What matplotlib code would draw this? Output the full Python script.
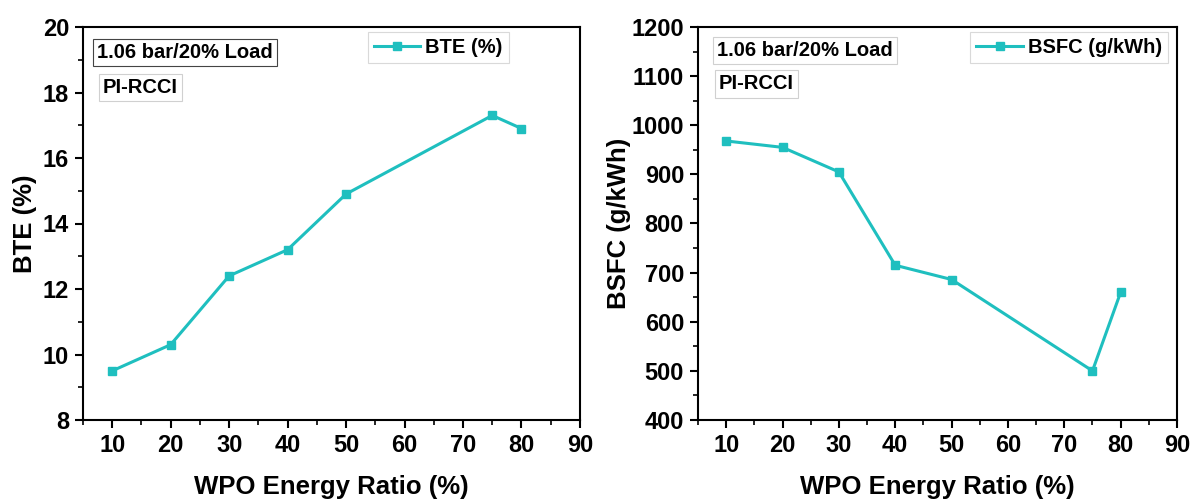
import matplotlib
matplotlib.use("Agg")
import matplotlib.pyplot as plt
from matplotlib.ticker import MultipleLocator

plt.rcParams['font.family'] = ['Liberation Sans', 'DejaVu Sans']
plt.rcParams['font.weight'] = 'bold'

wpo = [10, 20, 30, 40, 50, 75, 80]
bte = [9.5, 10.3, 12.4, 13.2, 14.9, 17.3, 16.9]
bsfc = [968, 955, 905, 715, 686, 500, 660]
xticks = [10, 20, 30, 40, 50, 60, 70, 80, 90]
color = '#1fbfbf'

fig = plt.figure(figsize=(11.97, 5.0), dpi=100)
ax1 = fig.add_axes([0.0693, 0.16, 0.4152, 0.786])
ax2 = fig.add_axes([0.5831, 0.16, 0.4002, 0.786])

def style(ax, ylim, major, minor, ylabel, ypad):
    ax.set_xlim(5, 90)
    ax.set_ylim(*ylim)
    ax.set_xticks(xticks)
    ax.xaxis.set_minor_locator(MultipleLocator(5))
    ax.yaxis.set_major_locator(MultipleLocator(major))
    ax.yaxis.set_minor_locator(MultipleLocator(minor))
    ax.tick_params(which='major', length=6, width=1.5, labelsize=17, direction='out', pad=4)
    ax.tick_params(which='minor', length=3.5, width=1.2, direction='out')
    for s in ax.spines.values():
        s.set_linewidth(1.5)
    for lab in ax.get_xticklabels() + ax.get_yticklabels():
        lab.set_fontweight('bold')
    ax.set_xlabel('WPO Energy Ratio (%)', fontsize=18.5, fontweight='bold', labelpad=13)
    ax.set_ylabel(ylabel, fontsize=18.5, fontweight='bold', labelpad=ypad)

ax1.plot(wpo, bte, '-s', color=color, lw=2.2, ms=6, label='BTE (%)')
style(ax1, (8, 20), 2, 1, 'BTE (%)', 4)
ax2.plot(wpo, bsfc, '-s', color=color, lw=2.2, ms=6, label='BSFC (g/kWh)')
style(ax2, (400, 1200), 100, 50, 'BSFC (g/kWh)', 0.5)

box = dict(boxstyle='square,pad=0.2', facecolor='white', edgecolor='#444444', linewidth=0.8)
box2 = dict(boxstyle='square,pad=0.2', facecolor='white', edgecolor='#d0d0d0', linewidth=0.8)
fs = 14.5
ax1.text(0.028, 0.936, '1.06 bar/20% Load', transform=ax1.transAxes, fontsize=fs,
         fontweight='bold', va='center', ha='left', bbox=box)
ax1.text(0.04, 0.845, 'PI-RCCI', transform=ax1.transAxes, fontsize=fs,
         fontweight='bold', va='center', ha='left', bbox=box2)
ax2.text(0.04, 0.941, '1.06 bar/20% Load', transform=ax2.transAxes, fontsize=fs,
         fontweight='bold', va='center', ha='left', bbox=box2)
ax2.text(0.044, 0.855, 'PI-RCCI', transform=ax2.transAxes, fontsize=fs,
         fontweight='bold', va='center', ha='left', bbox=box2)

for ax, anchor in [(ax1, (0.857, 0.947)), (ax2, (0.981, 0.947))]:
    leg = ax.legend(loc='center right', bbox_to_anchor=anchor, fontsize=fs, frameon=True,
                    handlelength=2.3, handletextpad=0.25, borderpad=0.3, borderaxespad=0,
                    fancybox=False)
    leg.get_frame().set_edgecolor('#d0d0d0')
    leg.get_frame().set_linewidth(0.8)
    for t in leg.get_texts():
        t.set_fontweight('bold')

fig.savefig('out.png', dpi=100)
